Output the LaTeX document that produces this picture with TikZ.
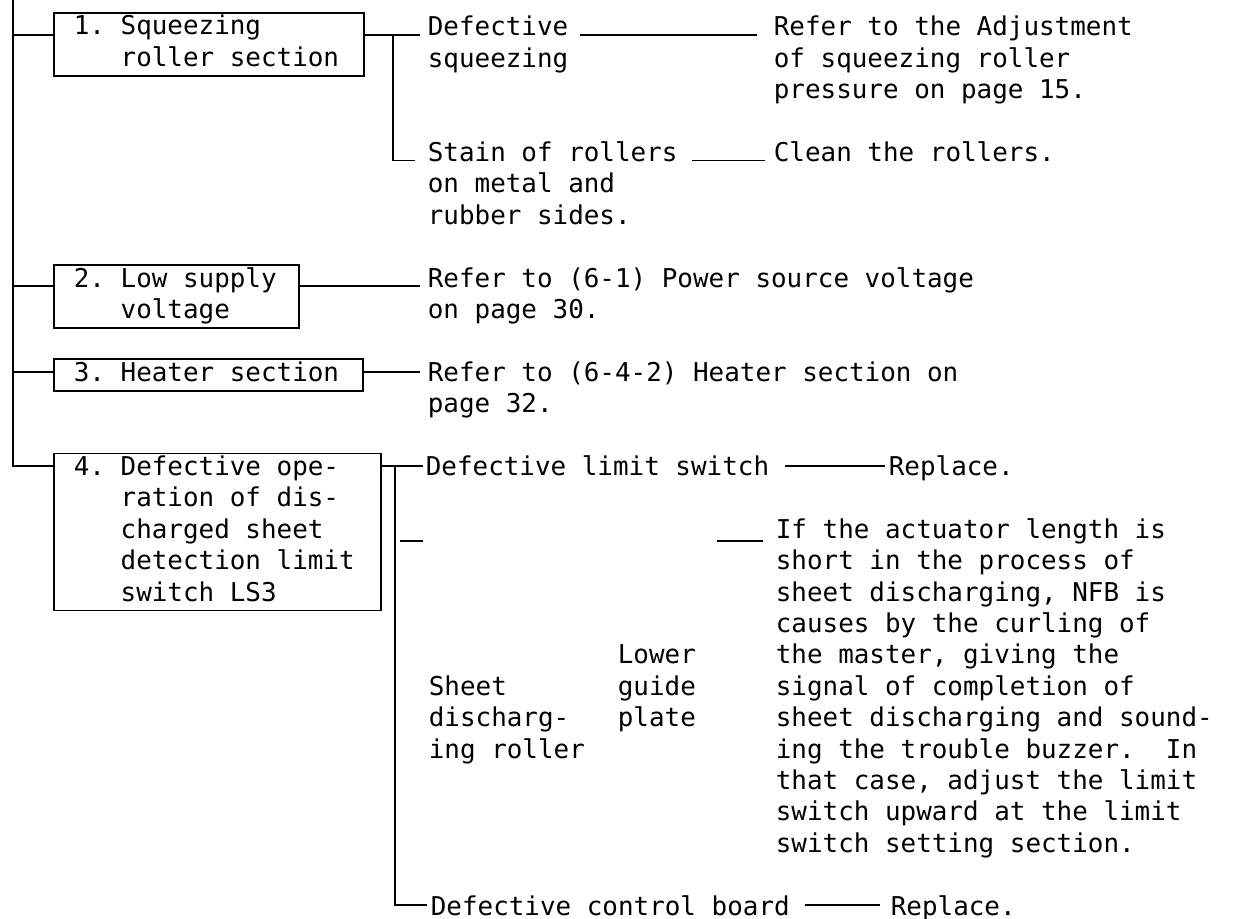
\documentclass[tikz,border=0pt]{standalone}
\usepackage{fontspec}
\usepackage{tikz}
\usetikzlibrary{positioning,calc}

\newfontfamily\typefont{DejaVu Sans Mono}
\newcommand{\chartfont}{\typefont\fontsize{14.75}{17.87}\selectfont\frenchspacing}

\begin{document}
\begin{tikzpicture}[x=0.02cm, y=-0.02cm, line width=1pt]
        % Define styles
        \tikzset{
            cause/.style={draw, rectangle, inner xsep=0.4cm, inner ysep=0pt, anchor=north west, align=flush left, font=\chartfont},
            txt/.style={inner sep=0pt, anchor=north west, align=flush left, font=\chartfont},
            link/.style={line width=1pt}
        }
        \useasboundingbox (0,0) rectangle (1240,919);

        % Place nodes
        \node[cause, text width=5.4cm] (box1) at (53,12) {\strut 1. Squeezing\\\hphantom{1. }roller section\strut};
        \node[cause, text width=4.1cm] (box2) at (53,264.2) {\strut 2. Low supply\\\hphantom{2. }voltage\strut};
        \node[cause, text width=5.38cm] (box3) at (53,358.4) {\strut 3. Heater section\strut};
        \node[cause, text width=5.74cm] (box4) at (53,452.6) {\strut 4. Defective ope-\\\hphantom{4. }ration of dis-\\\hphantom{4. }charged sheet\\\hphantom{4. }detection limit\\\hphantom{4. }switch LS3\strut};

        \node[txt] (def1) at (427,13) {\strut Defective\\squeezing};
        \node[txt] (ref1) at (773,13) {\strut Refer to the Adjustment\\of squeezing roller\\pressure on page 15.};
        \node[txt] (stain) at (427,138.6) {\strut Stain of rollers\\on metal and\\rubber sides.};
        \node[txt] (clean) at (773,138.6) {\strut Clean the rollers.};
        \node[txt] (ref2) at (427,264.2) {\strut Refer to (6-1) Power source voltage\\on page 30.};
        \node[txt] (ref3) at (427,358.4) {\strut Refer to (6-4-2) Heater section on\\page 32.};
        \node[txt] (dls) at (425,452.6) {\strut Defective limit switch};
        \node[txt] (rep1) at (888,452.6) {\strut Replace.};
        \node[txt] (act) at (775,515.4) {\strut If the actuator length is\\short in the process of\\sheet discharging, NFB is\\causes by the curling of\\the master, giving the\\signal of completion of\\sheet discharging and sound-\\ing the trouble buzzer.~ In\\that case, adjust the limit\\switch upward at the limit\\switch setting section.};
        \node[txt] (lgp) at (617,641) {\strut Lower\\guide\\plate};
        \node[txt] (sdr) at (428,672.4) {\strut Sheet\\discharg-\\ing roller};
        \node[txt] (dcb) at (430,892.2) {\strut Defective control board};
        \node[txt] (rep2) at (890,892.2) {\strut Replace.};

        \node[coordinate] (top) at (13,0) {};
        \node[coordinate] (j1) at (13,35) {};
        \node[coordinate] (j2) at (13,286) {};
        \node[coordinate] (j3) at (13,372) {};
        \node[coordinate] (j4) at (13,466) {};
        \node[coordinate] (k1) at (393,35) {};
        \node[coordinate] (k2) at (393,160.6) {};
        \node[coordinate] (k3) at (395,466) {};
        \node[coordinate] (k4) at (395,905) {};
        \node[coordinate] (k5) at (395,541) {};

        % Draw the trunk and the branches to the boxes
        \draw[link] (top) -- (j4) -- (j4 -| box4.west);
        \draw[link] (j1) -- (j1 -| box1.west);
        \draw[link] (j2) -- (j2 -| box2.west);
        \draw[link] (j3) -- (j3 -| box3.west);

        % Draw branches of box 1
        \draw[link, shorten >=0.14cm] (j1 -| box1.east) -- (j1 -| def1.west);
        \draw[link, shorten >=0.24cm] (k1) -- (k2) -- (k2 -| stain.west);
        \draw[link, shorten <=0.21cm, shorten >=0.32cm] (j1 -| def1.east) -- (j1 -| ref1.west);
        \draw[link, shorten <=0.27cm, shorten >=0.16cm] (k2 -| stain.east) -- (k2 -| clean.west);

        % Draw branches of boxes 2 and 3
        \draw[link, shorten >=0.14cm] (j2 -| box2.east) -- (j2 -| ref2.west);
        \draw[link, shorten >=0.14cm] (j3 -| box3.east) -- (j3 -| ref3.west);

        % Draw branches of box 4
        \draw[link, shorten >=0.04cm] (j4 -| box4.east) -- (j4 -| dls.west);
        \draw[link, shorten <=0.3cm, shorten >=0.06cm] (j4 -| dls.east) -- (j4 -| rep1.west);
        \draw[link, shorten >=0.06cm] (k3) -- (k4) -- (k4 -| dcb.west);
        \draw[link, shorten <=0.1cm, shorten >=0.1cm] (k5) -- (k5 -| sdr.west);
        \draw[link, shorten <=0.4cm, shorten >=0.24cm] (k5 -| lgp.east) -- (k5 -| act.west);
        \draw[link, shorten <=0.28cm, shorten >=0.2cm] (k4 -| dcb.east) -- (k4 -| rep2.west);
    \end{tikzpicture}
\end{document}
